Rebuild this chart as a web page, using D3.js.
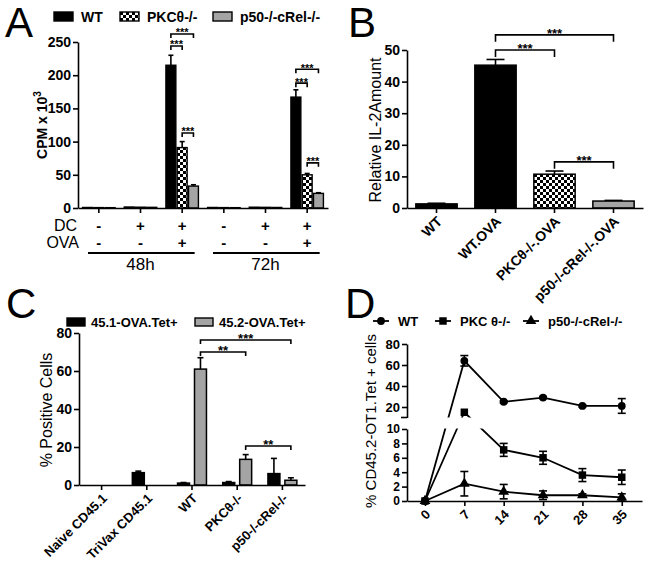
<!DOCTYPE html>
<html><head><meta charset="utf-8">
<script src="https://cdn.jsdelivr.net/npm/d3@7"></script>
<style>
body{margin:0;background:#fff;}
svg{display:block;font-family:"Liberation Sans",Arial,Helvetica,sans-serif;}
</style></head><body>
<svg id="chart" width="650" height="568"></svg>
<script>
// ---------------- DATA ----------------
// Panel A
const aGroups = ["48h DC- OVA-","48h DC+ OVA-","48h DC+ OVA+","72h DC- OVA-","72h DC+ OVA-","72h DC+ OVA+"];
const aSeries = ["WT","PKCθ-/-","p50-/-cRel-/-"];
const aWT = [0.8, 1.5, 215, 0.8, 1.2, 167];
const aPKC = [0.6, 1.2, 91, 0.6, 1.0, 50];
const aP50 = [0.5, 1.0, 33, 0.5, 0.8, 22];
const aWTErr = [0, 0, 15, 0, 0, 11];
const aPKCErr = [0, 0, 9, 0, 0, 2];
const aP50Err = [0, 0, 2, 0, 0, 1];
const aDC = ["-","+","+","-","+","+"];
const aOVA = ["-","-","+","-","-","+"];
const aTimes = ["48h","72h"];
const aTicks = [0,50,100,150,200,250];
const aSig = [
  {group:2, from:0, to:2, level:262, label:"***"},
  {group:2, from:0, to:1, level:244, label:"***"},
  {group:2, from:1, to:2, level:113, label:"***"},
  {group:5, from:0, to:2, level:209, label:"***"},
  {group:5, from:0, to:1, level:188, label:"***"},
  {group:5, from:1, to:2, level:68, label:"***"}
];
// Panel B
const bCats = ["WT","WT.OVA","PKCθ-/-.OVA","p50-/-cRel-/-.OVA"];
const bVals = [1.3, 45.2, 10.7, 2.2];
const bErr = [0.2, 1.8, 1.0, 0.2];
const bTicks = [0,10,20,30,40,50];
const bSig = [
  {from:1, to:3, level:54.8, label:"***"},
  {from:1, to:2, level:50, label:"***"},
  {from:2, to:3, level:14.6, label:"***"}
];
// Panel C
const cCats = ["Naive CD45.1","TriVax CD45.1","WT","PKCθ-/-","p50-/-cRel-/-"];
const cSeries = ["45.1-OVA.Tet+","45.2-OVA.Tet+"];
const c451 = [0, 6.5, 1.0, 1.3, 6.0];
const c451Err = [0, 0.8, 0.3, 0.5, 8.0];
const c452 = [0, 0, 61, 13.5, 2.5];
const c452Err = [0, 0, 6, 2.5, 1.3];
const cTicks = [0,20,40,60,80];
const cSig = [
  {from:2, to:4, level:76.3, label:"***"},
  {from:2, to:3, level:70, label:"**"},
  {from:3, to:4, level:20.5, label:"**"}
];
// Panel D
const dDays = [0,7,14,21,28,35];
const dSeries = ["WT","PKC θ-/-","p50-/-cRel-/-"];
const dWT = [0, 64, 25, 29, 21, 21];
const dWTErr = [0, 5, 1, 1, 1, 7];
const dPKC = [0, 15, 7.1, 6.0, 3.6, 3.3];
const dPKCErr = [0, 0, 0.9, 0.9, 0.9, 1.0];
const dP50 = [0, 2.4, 1.3, 0.8, 0.8, 0.5];
const dP50Err = [0, 1.7, 1.0, 0.6, 0.2, 0.5];
const dTicksLow = [0,2,4,6,8,10];
const dTicksUp = [20,40,60,80];

// ---------------- SETUP ----------------
const FONT = "'Liberation Sans', Arial, Helvetica, sans-serif";
const svg = d3.select("#chart");
svg.append("rect").attr("width",650).attr("height",568).attr("fill","#fff");
const defs = svg.append("defs");
const pat = defs.append("pattern").attr("id","checker").attr("patternUnits","userSpaceOnUse").attr("width",6).attr("height",6);
pat.append("rect").attr("width",6).attr("height",6).attr("fill","#fff");
pat.append("rect").attr("width",3).attr("height",3).attr("fill","#000");
pat.append("rect").attr("x",3).attr("y",3).attr("width",3).attr("height",3).attr("fill","#000");
const GRAY = "#a4a4a4";
const SW = 1.6;

function styleAxis(ax, size){
  ax.attr("font-family", FONT).attr("font-size", size||13).attr("font-weight","bold");
  ax.selectAll("path, line").attr("stroke","#000").attr("stroke-width",SW);
  ax.selectAll("text").attr("fill","#000");
}
function bracket(g, x1, x2, y, leg, label, fs){
  g.append("path").attr("d",`M${x1},${y+leg}V${y}H${x2}V${y+leg}`)
    .attr("fill","none").attr("stroke","#000").attr("stroke-width",SW);
  g.append("text").attr("x",(x1+x2)/2).attr("y",y+fs*0.22).attr("text-anchor","middle")
    .attr("font-size",fs).attr("font-weight","bold").attr("fill","#000").text(label);
}
function errBar(g, x, y0, y1, cap){
  g.append("line").attr("x1",x).attr("x2",x).attr("y1",y0).attr("y2",y1).attr("stroke","#000").attr("stroke-width",SW);
  g.append("line").attr("x1",x-cap/2).attr("x2",x+cap/2).attr("y1",y1).attr("y2",y1).attr("stroke","#000").attr("stroke-width",SW);
}
function letter(t, x, y){
  svg.append("text").attr("x",x).attr("y",y).attr("font-size",42).attr("font-family",FONT).attr("fill","#000").text(t);
}
function yLabel(g, text, cx, cy, fs, bold){
  return g.append("text").attr("transform",`translate(${cx},${cy}) rotate(-90)`)
    .attr("text-anchor","middle").attr("dy","0.35em")
    .attr("font-size",fs).attr("font-weight",bold?"bold":"normal").attr("fill","#000").text(text);
}
function rotLabel(g, text, x, y, fs){
  g.append("text").attr("transform",`translate(${x},${y}) rotate(-45)`)
    .attr("text-anchor","end").attr("dy","0.35em").attr("font-size",fs).attr("font-weight","bold")
    .attr("fill","#000").text(text);
}

// ---------------- PANEL A ----------------
(function(){
  const g = svg.append("g").attr("font-family",FONT);
  letter("A", 5, 37);
  const x = d3.scaleBand().domain(aGroups).range([78,328]);
  const x1 = d3.scaleBand().domain(aSeries).range([x.bandwidth()*0.11, x.bandwidth()*0.89]).paddingInner(0.12);
  const y = d3.scaleLinear().domain([0,250]).range([208,42]);
  const vals = [aWT, aPKC, aP50], errs = [aWTErr, aPKCErr, aP50Err];
  const fills = ["#000","url(#checker)",GRAY];
  aSeries.forEach((s,si)=>{
    aGroups.forEach((grp,gi)=>{
      const bx = x(grp)+x1(s);
      const v = vals[si][gi];
      if(errs[si][gi]>0) errBar(g, bx+x1.bandwidth()/2, y(v), y(v+errs[si][gi]), 5);
      g.append("rect").attr("x",bx).attr("y",y(v)).attr("width",x1.bandwidth()).attr("height",y(0)-y(v))
        .attr("fill",fills[si]).attr("stroke","#000").attr("stroke-width",1.4);
    });
  });
  const ya = g.append("g").attr("transform","translate(78,0)")
    .call(d3.axisLeft(y).tickValues(aTicks).tickSize(5).tickSizeOuter(0).tickPadding(2));
  styleAxis(ya, 14);
  const xa = g.append("g").attr("transform","translate(0,208)")
    .call(d3.axisBottom(x).tickSize(5).tickSizeOuter(0).tickFormat(""));
  styleAxis(xa);
  // condition rows
  g.append("text").attr("x",77).attr("y",231).attr("text-anchor","end").attr("font-size",16).attr("fill","#000").text("DC");
  g.append("text").attr("x",79).attr("y",248).attr("text-anchor","end").attr("font-size",16).attr("fill","#000").text("OVA");
  aGroups.forEach((grp,gi)=>{
    const cx = x(grp)+x.bandwidth()/2;
    g.append("text").attr("x",cx).attr("y",231).attr("text-anchor","middle").attr("font-size",15).attr("font-weight","bold").attr("fill","#000").text(aDC[gi]);
    g.append("text").attr("x",cx).attr("y",248).attr("text-anchor","middle").attr("font-size",15).attr("font-weight","bold").attr("fill","#000").text(aOVA[gi]);
  });
  aTimes.forEach((t,ti)=>{
    const g0 = aGroups[ti*3], g2 = aGroups[ti*3+2];
    const xs = x(g0)+x.bandwidth()*0.24, xe = x(g2)+x.bandwidth()*0.8;
    g.append("line").attr("x1",xs).attr("x2",xe).attr("y1",253).attr("y2",253).attr("stroke","#000").attr("stroke-width",2.2);
    g.append("text").attr("x",x(aGroups[ti*3+1])+x.bandwidth()/2).attr("y",270).attr("text-anchor","middle").attr("font-size",17).attr("fill","#000").text(t);
  });
  // brackets
  aSig.forEach(s=>{
    const grp = aGroups[s.group];
    const xa1 = x(grp)+x1(aSeries[s.from])+x1.bandwidth()/2;
    const xa2 = x(grp)+x1(aSeries[s.to])+x1.bandwidth()/2;
    bracket(g, xa1, xa2, y(s.level), 4, s.label, 11);
  });
  const lab = yLabel(g, "CPM x 10", 42, 125, 14, true);
  lab.append("tspan").attr("dy",-6).attr("font-size",10).text("3");
  // legend
  const lx = [54, 120, 213];
  aSeries.forEach((s,si)=>{
    g.append("rect").attr("x",lx[si]).attr("y",12).attr("width",19).attr("height",9).attr("fill",fills[si]).attr("stroke","#000").attr("stroke-width",1.4);
    g.append("text").attr("x",lx[si]+27).attr("y",21.5).attr("font-size",14).attr("font-weight","bold").attr("fill","#000").text(s);
  });
})();

// ---------------- PANEL B ----------------
(function(){
  const g = svg.append("g").attr("font-family",FONT);
  letter("B", 348, 37);
  const x = d3.scaleBand().domain(bCats).range([407,643]).paddingInner(0.3).paddingOuter(0.15);
  const y = d3.scaleLinear().domain([0,50]).range([208,50]);
  const fills = ["#000","#000","url(#checker)",GRAY];
  bCats.forEach((c,i)=>{
    errBar(g, x(c)+x.bandwidth()/2, y(bVals[i]), y(bVals[i]+bErr[i]), 18);
    g.append("rect").attr("x",x(c)).attr("y",y(bVals[i])).attr("width",x.bandwidth()).attr("height",y(0)-y(bVals[i]))
      .attr("fill",fills[i]).attr("stroke","#000").attr("stroke-width",1.5);
  });
  const ya = g.append("g").attr("transform","translate(407,0)")
    .call(d3.axisLeft(y).tickValues(bTicks).tickSize(5).tickSizeOuter(0).tickPadding(2));
  styleAxis(ya, 14);
  const xa = g.append("g").attr("transform","translate(0,208)")
    .call(d3.axisBottom(x).tickSize(5).tickSizeOuter(0).tickFormat(""));
  styleAxis(xa);
  bCats.forEach(c=> rotLabel(g, c, x(c)+x.bandwidth()/2+3, 219, 14));
  bSig.forEach(s=>{
    const c1 = bCats[s.from], c2 = bCats[s.to];
    bracket(g, x(c1)+x.bandwidth()/2, x(c2)+x.bandwidth()/2, y(s.level), 7, s.label, 13);
  });
  yLabel(g, "Relative IL-2Amount", 375, 130, 16, false);
})();

// ---------------- PANEL C ----------------
(function(){
  const g = svg.append("g").attr("font-family",FONT);
  letter("C", 6, 318);
  const x = d3.scaleBand().domain(cCats).range([79,305]);
  const x1 = d3.scaleBand().domain(cSeries).range([x.bandwidth()*0.18, x.bandwidth()*0.82]).paddingInner(0.294);
  const y = d3.scaleLinear().domain([0,80]).range([485,333]);
  const vals = [c451, c452], errs = [c451Err, c452Err], fills = ["#000", GRAY];
  cSeries.forEach((s,si)=>{
    cCats.forEach((c,ci)=>{
      const v = vals[si][ci];
      if(v<=0) return;
      const bx = x(c)+x1(s);
      if(errs[si][ci]>0) errBar(g, bx+x1.bandwidth()/2, y(v), y(v+errs[si][ci]), 6);
      g.append("rect").attr("x",bx).attr("y",y(v)).attr("width",x1.bandwidth()).attr("height",y(0)-y(v))
        .attr("fill",fills[si]).attr("stroke","#000").attr("stroke-width",1.5);
    });
  });
  const ya = g.append("g").attr("transform","translate(79,0)")
    .call(d3.axisLeft(y).tickValues(cTicks).tickSize(5).tickSizeOuter(0).tickPadding(2));
  styleAxis(ya, 14);
  const xa = g.append("g").attr("transform","translate(0,485)")
    .call(d3.axisBottom(x).tickSize(5).tickSizeOuter(0).tickFormat(""));
  styleAxis(xa);
  cCats.forEach(c=> rotLabel(g, c, x(c)+x.bandwidth()/2+3, 496, 13));
  cSig.forEach(s=>{
    const c1 = cCats[s.from], c2 = cCats[s.to];
    bracket(g, x(c1)+x1(cSeries[1])+x1.bandwidth()/2, x(c2)+x1(cSeries[1])+x1.bandwidth()/2, y(s.level), 4, s.label, 13);
  });
  yLabel(g, "% Positive Cells", 46, 410, 16, false);
  const lx = [67, 195];
  cSeries.forEach((s,si)=>{
    g.append("rect").attr("x",lx[si]).attr("y",318).attr("width",18).attr("height",8).attr("fill",fills[si]).attr("stroke","#000").attr("stroke-width",1.4);
    g.append("text").attr("x",lx[si]+24).attr("y",326.5).attr("font-size",13).attr("font-weight","bold").attr("fill","#000").text(s);
  });
})();

// ---------------- PANEL D ----------------
(function(){
  const g = svg.append("g").attr("font-family",FONT);
  letter("D", 345, 318);
  const x = d3.scaleLinear().domain([-3.2, 38.6]).range([407, 642]);
  const yLow = d3.scaleLinear().domain([0,10]).range([501,429]);
  const yUp = d3.scaleLinear().domain([10,80]).range([417.5,344]);
  const y = v => v<=10 ? yLow(v) : yUp(v);
  const series = [dWT, dPKC, dP50], errs = [dWTErr, dPKCErr, dP50Err];
  const line = d3.line().x((d,i)=>x(dDays[i])).y(d=>y(d));
  series.forEach(s=>{
    g.append("path").attr("d",line(s)).attr("fill","none").attr("stroke","#000").attr("stroke-width",1.8);
  });
  // axis break gap
  g.append("rect").attr("x",408).attr("y",417.5).attr("width",240).attr("height",11).attr("fill","#fff");
  // error bars
  series.forEach((s,si)=>{
    s.forEach((v,i)=>{
      const e = errs[si][i];
      if(e<=0) return;
      const cx = x(dDays[i]);
      g.append("line").attr("x1",cx).attr("x2",cx).attr("y1",y(v-e)).attr("y2",y(v+e)).attr("stroke","#000").attr("stroke-width",SW);
      [v-e, v+e].forEach(w=> g.append("line").attr("x1",cx-4).attr("x2",cx+4).attr("y1",y(w)).attr("y2",y(w)).attr("stroke","#000").attr("stroke-width",SW));
    });
  });
  const symbols = [d3.symbolCircle, d3.symbolSquare, d3.symbolTriangle];
  const sizes = [48, 56, 50];
  series.forEach((s,si)=>{
    s.forEach((v,i)=>{
      g.append("path").attr("d",d3.symbol(symbols[si], sizes[si])())
        .attr("transform",`translate(${x(dDays[i])},${y(v)})`).attr("fill","#000");
    });
  });
  // axes
  const yaU = g.append("g").attr("transform","translate(407,0)")
    .call(d3.axisLeft(yUp).tickValues(dTicksUp).tickSize(5).tickSizeOuter(0).tickPadding(2));
  styleAxis(yaU, 13);
  g.append("line").attr("x1",401).attr("x2",407).attr("y1",417.5).attr("y2",417.5).attr("stroke","#000").attr("stroke-width",SW);
  const yaL = g.append("g").attr("transform","translate(407,0)")
    .call(d3.axisLeft(yLow).tickValues(dTicksLow).tickSize(5).tickSizeOuter(0).tickPadding(2));
  styleAxis(yaL, 12);
  const xa = g.append("g").attr("transform","translate(0,501)")
    .call(d3.axisBottom(x).tickValues(dDays).tickSize(5).tickSizeOuter(0).tickFormat(""));
  styleAxis(xa);
  dDays.forEach(dd=> rotLabel(g, String(dd), x(dd)+3, 512, 13));
  yLabel(g, "% CD45.2-OT1.Tet + cells", 371, 421, 15, false);
  // legend
  const lx = [373, 435, 523];
  dSeries.forEach((s,si)=>{
    g.append("line").attr("x1",lx[si]).attr("x2",lx[si]+16).attr("y1",321).attr("y2",321).attr("stroke","#000").attr("stroke-width",1.8);
    g.append("path").attr("d",d3.symbol(symbols[si], sizes[si])()).attr("transform",`translate(${lx[si]+8},321)`).attr("fill","#000");
    g.append("text").attr("x",lx[si]+25).attr("y",326).attr("font-size",13).attr("font-weight","bold").attr("fill","#000").text(s);
  });
})();
</script>
</body></html>
